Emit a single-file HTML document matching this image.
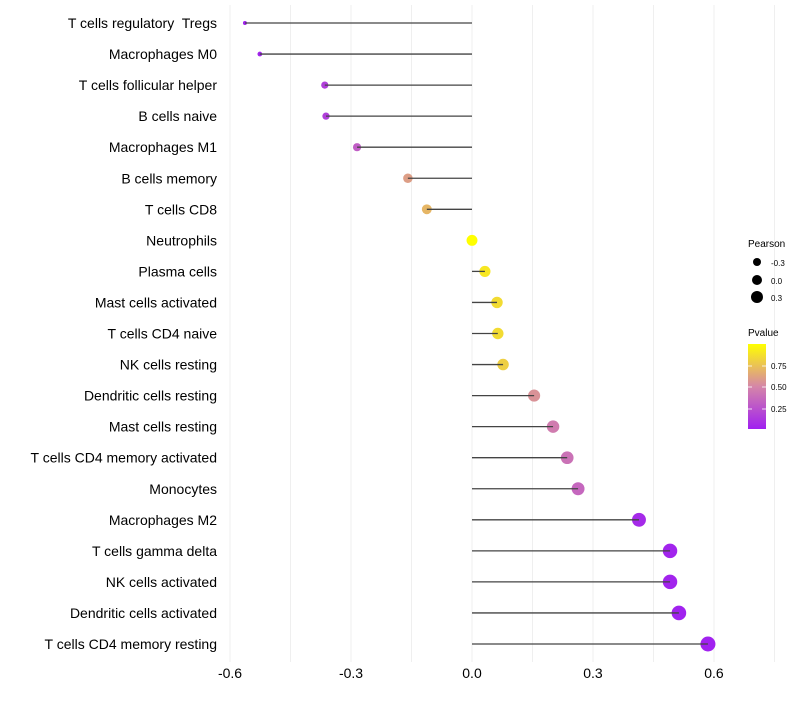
<!DOCTYPE html>
<html><head><meta charset="utf-8"><style>
body{margin:0;background:#fff;font-family:"Liberation Sans",sans-serif}
svg text{font-family:"Liberation Sans",sans-serif;white-space:pre}
</style></head><body>
<svg id="chart" width="800" height="700" xmlns="http://www.w3.org/2000/svg">
<g id="grid"></g>
<g id="marks"></g>
<g id="ylab"></g>
<g id="xlab"></g>
<g>
<text x="748" y="247" font-size="10">Pearson</text>
<circle cx="757" cy="262" r="4" fill="#000"/>
<text x="771" y="266" font-size="8">-0.3</text>
<circle cx="757" cy="280" r="5" fill="#000"/>
<text x="771" y="284" font-size="8">0.0</text>
<circle cx="757" cy="297" r="6" fill="#000"/>
<text x="771" y="301" font-size="8">0.3</text>
</g>
<g>
<defs><linearGradient id="pg" x1="0" y1="1" x2="0" y2="0">
<stop offset="0" stop-color="#a020f0"/><stop offset="0.5" stop-color="#d586a8"/><stop offset="1" stop-color="#ffff00"/></linearGradient></defs>
<text x="748" y="336" font-size="10">Pvalue</text>
<rect x="748" y="344" width="18" height="85" fill="url(#pg)"/>
<g stroke="#fff" stroke-width="0.8"><line x1="748" x2="752" y1="366" y2="366"/><line x1="762" x2="766" y1="366" y2="366"/><line x1="748" x2="752" y1="387" y2="387"/><line x1="762" x2="766" y1="387" y2="387"/><line x1="748" x2="752" y1="409" y2="409"/><line x1="762" x2="766" y1="409" y2="409"/></g>
<text x="771" y="369" font-size="8">0.75</text>
<text x="771" y="390" font-size="8">0.50</text>
<text x="771" y="412" font-size="8">0.25</text>
</g>
</svg>
<script>
const categories=["T cells regulatory  Tregs","Macrophages M0","T cells follicular helper","B cells naive","Macrophages M1","B cells memory","T cells CD8","Neutrophils","Plasma cells","Mast cells activated","T cells CD4 naive","NK cells resting","Dendritic cells resting","Mast cells resting","T cells CD4 memory activated","Monocytes","Macrophages M2","T cells gamma delta","NK cells activated","Dendritic cells activated","T cells CD4 memory resting"];
const pearson=[-0.563,-0.526,-0.365,-0.362,-0.285,-0.159,-0.112,0,0.032,0.062,0.064,0.077,0.154,0.201,0.236,0.263,0.414,0.491,0.491,0.513,0.585];
const pvalues=[0.01,0.02,0.15,0.15,0.3,0.6,0.7,1.0,0.9,0.85,0.85,0.8,0.55,0.45,0.4,0.35,0.05,0.02,0.02,0.01,0.01];
const xTicks=[-0.6,-0.3,0.0,0.3,0.6];
const xTickLabels=["-0.6","-0.3","0.0","0.3","0.6"];
const NS="http://www.w3.org/2000/svg";
function x(v){return 472+v*403.33;}
function y(i){return 23+i*31.05;}
function rad(v){return Math.sqrt(4+45.6*(v+0.563));}
function lerp(a,b,t){return a.map((c,k)=>Math.round(c+(b[k]-c)*t));}
function col(p){const c0=[160,32,240],c1=[213,134,168],c2=[255,255,0];const c=p<0.5?lerp(c0,c1,p/0.5):lerp(c1,c2,(p-0.5)/0.5);return `rgb(${c})`;}
function mk(tag,attrs,parent){const e=document.createElementNS(NS,tag);for(const k in attrs)e.setAttribute(k,attrs[k]);parent.appendChild(e);return e;}
const grid=document.getElementById('grid'),marks=document.getElementById('marks'),ylab=document.getElementById('ylab'),xlab=document.getElementById('xlab');
for(let v=-0.6;v<=0.751;v+=0.15){const g=mk('line',{x1:x(v),x2:x(v),y1:5,y2:662,stroke:'#efefef','stroke-width':1},grid);

}
xTicks.forEach((t,i)=>{const e=mk('text',{x:x(t),y:678,'font-size':14,'text-anchor':'middle',fill:'#000'},xlab);e.textContent=xTickLabels[i];

});
categories.forEach((c,i)=>{
const t=mk('text',{x:217,y:y(i)+5,'font-size':14,'text-anchor':'end',fill:'#000'},ylab);t.textContent=c;


const p=mk('circle',{cx:x(pearson[i]),cy:y(i),r:rad(pearson[i]),fill:col(pvalues[i])},marks);


const l=mk('line',{x1:x(0),x2:x(pearson[i]),y1:y(i),y2:y(i),stroke:'#444','stroke-width':1.3},marks);


});
</script>
</body></html>
